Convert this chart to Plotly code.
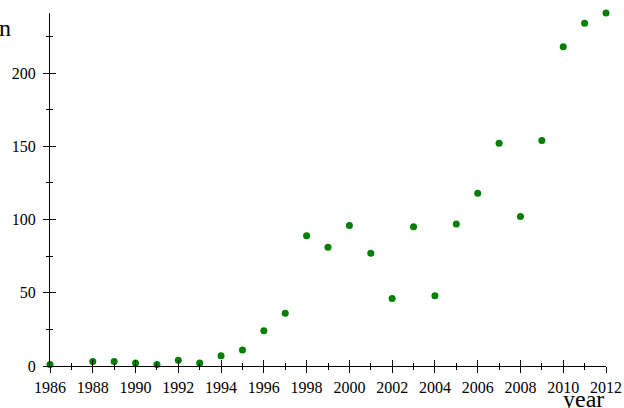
import plotly.graph_objects as go

years = list(range(1986, 2013))
counts = [1, None, 3, 3, 2, 1, 4, 2, 7, 11, 24, 36, 89, 81, 96, 77, 46, 95, 48, 97, 118, 152, 102, 154, 218, 234, 241]

xs = [y for y, c in zip(years, counts) if c is not None]
ys = [c for c in counts if c is not None]

FAM = "Liberation Serif"
font = dict(family=FAM, size=16, color="black")

fig = go.Figure()
fig.add_trace(go.Scatter(x=xs, y=ys, mode="markers",
                         marker=dict(color="#008000", size=7),
                         cliponaxis=False, showlegend=False))

ax_common = dict(showgrid=False, zeroline=False, showline=True, linecolor="black", linewidth=1,
                 tickcolor="black", tickwidth=1, automargin=False)

fig.update_layout(
    width=624, height=408,
    margin=dict(l=50, r=18, t=13, b=42, autoexpand=False),
    paper_bgcolor="white", plot_bgcolor="white",
    font=font,
    xaxis=dict(range=[1986, 2012], tickmode="linear", tick0=1986, dtick=2,
               ticks="outside", ticklen=6, ticklabelstandoff=1,
               minor=dict(dtick=1, tick0=1986, ticks="outside", ticklen=3, tickcolor="black", showgrid=False),
               tickfont=font, **ax_common),
    yaxis=dict(range=[0, 241], tickmode="linear", tick0=0, dtick=50,
               ticks="outside", ticklen=6, ticklabelstandoff=4,
               minor=dict(dtick=25, tick0=0, ticks="outside", ticklen=3, tickcolor="black", showgrid=False),
               tickfont=font, **ax_common),
    xaxis2=dict(overlaying="x", matches="x", range=[1986, 2012], tickmode="linear", tick0=1986, dtick=2,
                ticks="inside", ticklen=6, showticklabels=False, anchor="y2",
                minor=dict(dtick=1, tick0=1986, ticks="inside", ticklen=3, tickcolor="black", showgrid=False),
                **ax_common),
    yaxis2=dict(overlaying="y", matches="y", range=[0, 241], tickmode="linear", tick0=0, dtick=50,
                ticks="inside", ticklen=6, showticklabels=False, anchor="x2",
                minor=dict(dtick=25, tick0=0, ticks="inside", ticklen=3, tickcolor="black", showgrid=False),
                **ax_common),
    annotations=[
        dict(text="n", xref="paper", yref="paper", x=-50/556, y=1 + 13/353, xanchor="left", yanchor="top",
             xshift=-3, yshift=-13, showarrow=False,
             font=dict(family=FAM, size=24, color="black")),
        dict(text="year", xref="paper", yref="paper", x=1, y=0, xanchor="right", yanchor="top",
             yshift=-18, showarrow=False,
             font=dict(family=FAM, size=24, color="black")),
    ],
)
fig.add_trace(go.Scatter(x=[None], y=[None], xaxis="x2", yaxis="y2", showlegend=False, hoverinfo="skip"))

fig.write_html("out.html")
